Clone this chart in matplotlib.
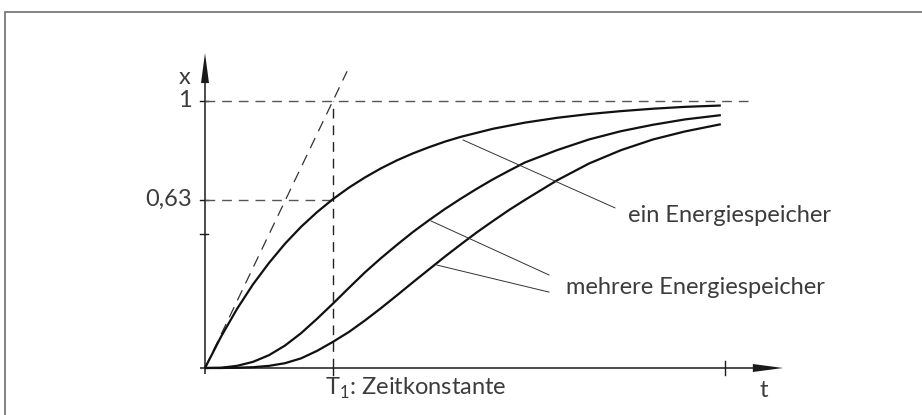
import matplotlib
matplotlib.use("Agg")
import matplotlib.pyplot as plt
from matplotlib.patches import Rectangle, Polygon

plt.rcParams['font.family'] = ['Lato', 'DejaVu Sans']
plt.rcParams['mathtext.fontset'] = 'custom'
plt.rcParams['mathtext.rm'] = 'Lato'

# time in units of T1
t_ein = [0, 0.125, 0.25, 0.375, 0.5, 0.625, 0.75, 0.875, 1.0, 1.125, 1.25, 1.375, 1.5, 1.625, 1.75,
         1.875, 2.0, 2.25, 2.5, 2.75, 3.0, 3.25, 3.5, 3.75, 4.03]
x_ein = [0, 0.117, 0.221, 0.313, 0.393, 0.465, 0.528, 0.583, 0.632, 0.675, 0.713, 0.747, 0.777, 0.803, 0.826,
         0.847, 0.865, 0.895, 0.918, 0.936, 0.95, 0.961, 0.97, 0.977, 0.982]

t_m1 = [0, 0.125, 0.25, 0.375, 0.5, 0.625, 0.75, 0.875, 1.0, 1.125, 1.25, 1.375, 1.5, 1.625, 1.75,
        1.875, 2.0, 2.125, 2.25, 2.375, 2.5, 2.75, 3.0, 3.25, 3.5, 3.75, 4.03]
x_m1 = [0, 0.001, 0.008, 0.023, 0.048, 0.084, 0.130, 0.184, 0.241, 0.300, 0.358, 0.411, 0.461, 0.509, 0.553,
        0.595, 0.634, 0.671, 0.706, 0.738, 0.769, 0.815, 0.855, 0.886, 0.91, 0.93, 0.946]

t_m2 = [0, 0.125, 0.25, 0.375, 0.5, 0.625, 0.75, 0.875, 1.0, 1.125, 1.25, 1.375, 1.5, 1.625, 1.75,
        1.875, 2.0, 2.125, 2.25, 2.375, 2.5, 2.75, 3.0, 3.25, 3.5, 3.75, 4.03]
x_m2 = [0, 0.0, 0.001, 0.003, 0.008, 0.018, 0.036, 0.064, 0.098, 0.135, 0.178, 0.224, 0.272, 0.321, 0.369,
        0.417, 0.463, 0.508, 0.55, 0.591, 0.629, 0.702, 0.765, 0.815, 0.855, 0.885, 0.912]

x_ticklabels = ['0,63', '1']
x_tickvals = [0.63, 1.0]

W, H = 922, 415
x0, y0 = 205, 368          # origin in pixels
px_t, px_x = 128, 267.3    # pixels per T1 and per unit x

fig = plt.figure(figsize=(W / 100, H / 100), dpi=100)
ax = fig.add_axes([0, 0, 1, 1])
ax.set_xlim(-x0 / px_t, (W - x0) / px_t)
ax.set_ylim(-(H - y0) / px_x, y0 / px_x)
ax.axis('off')

# frame
fig.patches.append(Rectangle((4.5 / W, -0.1), 1.2, 1 - 12.5 / H + 0.1, transform=fig.transFigure,
                             fill=False, edgecolor='#7a7a7a', lw=1.3))

axc = '#1a1a1a'
# axes lines
ax.plot([-5 / px_t, 4.3], [0, 0], color=axc, lw=1.1, solid_capstyle='butt')
ax.plot([0, 0], [-6 / px_x, 1.08], color=axc, lw=1.1, solid_capstyle='butt')
# arrow heads
ax.add_patch(Polygon([(4.28, 4 / px_x), (4.516, 0), (4.28, -4 / px_x)], closed=True, color=axc, lw=0))
ax.add_patch(Polygon([(-4 / px_t, 1.066), (0, 1.178), (4 / px_t, 1.066)], closed=True, color=axc, lw=0))

# ticks
for v in [0.5, 0.63, 1.0]:
    ax.plot([-5 / px_t, 3 / px_t], [v, v], color=axc, lw=1.0)
for tt in [1.0, (725 - x0) / px_t]:
    ax.plot([tt, tt], [-7 / px_x, 7 / px_x if tt > 2 else 0], color=axc, lw=1.0)

# dashed helper lines
dash = dict(color='#555555', lw=1.0, dashes=(7, 5))
ax.plot([0, (753 - x0) / px_t], [1, 1], **dash)
ax.plot([0, 1], [0.63, 0.63], **dash)
ax.plot([1, 1], [0, 1], color='#222222', lw=1.0, dashes=(7, 5))
ax.plot([0, 1.11], [0, 1.11], color='#333333', lw=0.9, dashes=(9, 6))

# curves
for tt, xx in [(t_ein, x_ein), (t_m1, x_m1), (t_m2, x_m2)]:
    ax.plot(tt, xx, color='#111111', lw=1.6, solid_joinstyle='round', solid_capstyle='butt')

# leader lines
lead = dict(color='#333333', lw=0.7)
ax.plot([2.016, 3.203], [0.853, 0.599], **lead)
ax.plot([1.766, 2.6875], [0.550, 0.348], **lead)
ax.plot([1.8125, 2.6875], [0.385, 0.284], **lead)

tc = '#3c3c3c'
fs = 17
ax.text(3.305, 0.572, 'ein Energiespeicher', fontsize=fs, color=tc, va='center', ha='left')
ax.text(2.82, 0.303, 'mehrere Energiespeicher', fontsize=fs, color=tc, va='center', ha='left')
ax.text(0.9375, -0.078, r'T$_1$: Zeitkonstante', fontsize=fs, color=tc, va='center', ha='left')
ax.text(4.367, -0.086, 't', fontsize=fs, color=tc, va='center', ha='center')
ax.text(-0.156, 1.085, 'x', fontsize=fs, color=tc, va='center', ha='center')
for v, lab in zip(x_tickvals, x_ticklabels):
    ax.text(-13 / px_t, v, lab, fontsize=fs, color=tc, va='center', ha='right')

fig.savefig('out.png', dpi=100)
